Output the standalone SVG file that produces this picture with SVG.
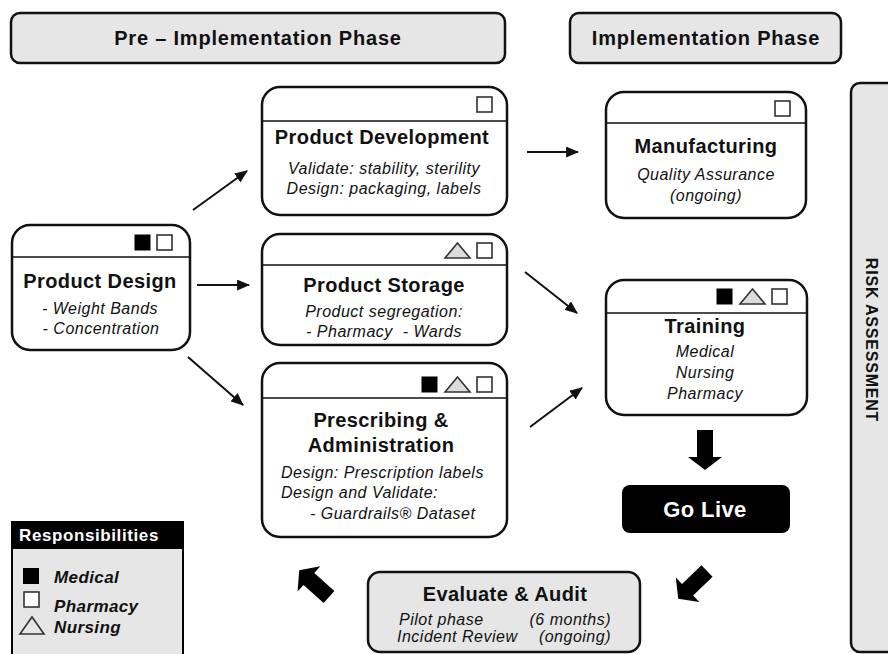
<svg xmlns="http://www.w3.org/2000/svg" width="888" height="654" viewBox="0 0 888 654">
  <style>
    .box { fill: #ffffff; stroke: #111; stroke-width: 2.5; }
    .band { fill: #e6e6e6; stroke: #111; stroke-width: 2.5; }
    .sep { stroke: #111; stroke-width: 1.5; }
    .title { font-family: "Liberation Sans", Arial, sans-serif; font-weight: bold; font-size: 20px; letter-spacing: 0.4px; fill: #111; text-anchor: middle; }
    .hdr { font-family: "Liberation Sans", Arial, sans-serif; font-weight: bold; font-size: 20px; letter-spacing: 0.8px; fill: #111; text-anchor: middle; }
    .body { font-family: "Liberation Sans", Arial, sans-serif; font-style: italic; font-size: 16px; letter-spacing: 0.5px; fill: #111; text-anchor: middle; }
    .left { text-anchor: start; }
    .right { text-anchor: end; }
    .sq-med { fill: #000; stroke: #000; stroke-width: 1; }
    .sq-pha { fill: #fff; stroke: #333; stroke-width: 1.6; }
    .tri-nur { fill: #dcdcdc; stroke: #333; stroke-width: 1.6; }
    .conn { stroke: #111; stroke-width: 2; fill: none; marker-end: url(#head); }
    .block { fill: #000; }
    .legend-txt { font-family: "Liberation Sans", Arial, sans-serif; font-weight: bold; font-style: italic; font-size: 17px; letter-spacing: 0.4px; fill: #111; }
  </style>
  <defs>
    <marker id="head" viewBox="0 0 12 10" refX="11" refY="5" markerWidth="13" markerHeight="11" markerUnits="userSpaceOnUse" orient="auto">
      <path d="M0,0 L12,5 L0,10 Z" fill="#111"/>
    </marker>
    <!-- block arrow pointing along +x, 40 long -->
    <path id="blk" d="M0,-8 L27,-8 L27,-17 L40,0 L27,17 L27,8 L0,8 Z"/>
    <rect id="sq" width="15" height="15"/>
    <path id="tri" d="M0,15 L12.5,0 L25,15 Z"/>
  </defs>

  <!-- phase headers -->
  <g id="pre-implementation">
    <rect class="band" x="11" y="13" width="494" height="50" rx="9"/>
    <text class="hdr" x="258" y="45">Pre – Implementation Phase</text>
  </g>
  <g id="implementation">
    <rect class="band" x="570" y="13" width="271" height="50" rx="9"/>
    <text class="hdr" x="706" y="45">Implementation Phase</text>
  </g>

  <!-- risk assessment band -->
  <g id="risk-assessment">
    <rect class="band" x="851" y="83" width="70" height="569" rx="9"/>
    <text class="hdr" x="0" y="0" transform="translate(866,340) rotate(90)" style="font-size:16px">RISK ASSESSMENT</text>
  </g>

  <!-- connectors -->
  <g id="connectors">
    <line class="conn" x1="193" y1="210" x2="247" y2="171"/>
    <line class="conn" x1="197" y1="285" x2="249" y2="285"/>
    <line class="conn" x1="188" y1="357" x2="243" y2="405"/>
    <line class="conn" x1="527" y1="152" x2="578" y2="152"/>
    <line class="conn" x1="525" y1="272" x2="577" y2="313"/>
    <line class="conn" x1="530" y1="427" x2="582" y2="388"/>
    <use href="#blk" class="block" transform="translate(705,430) rotate(90)"/>
    <use href="#blk" class="block" transform="translate(707,571) rotate(136)"/>
    <use href="#blk" class="block" transform="translate(329,597) rotate(222)"/>
  </g>

  <g id="product-design">
    <rect class="box" x="12" y="225" width="178" height="125" rx="18"/>
    <line class="sep" x1="13" y1="257" x2="189" y2="257"/>
    <use href="#sq" class="sq-med" x="135" y="235"/>
    <use href="#sq" class="sq-pha" x="157" y="235"/>
    <text class="title" x="100" y="288">Product Design</text>
    <text class="body" x="100" y="314">- Weight Bands</text>
    <text class="body" x="101" y="334">- Concentration</text>
  </g>

  <g id="product-development">
    <rect class="box" x="262" y="87" width="245" height="128" rx="18"/>
    <line class="sep" x1="263" y1="121" x2="506" y2="121"/>
    <use href="#sq" class="sq-pha" x="477" y="97"/>
    <text class="title" x="382" y="144">Product Development</text>
    <text class="body" x="384" y="174">Validate: stability, sterility</text>
    <text class="body" x="384" y="194">Design: packaging, labels</text>
  </g>

  <g id="product-storage">
    <rect class="box" x="262" y="234" width="245" height="111" rx="18"/>
    <line class="sep" x1="263" y1="265" x2="506" y2="265"/>
    <use href="#tri" class="tri-nur" x="445" y="243"/>
    <use href="#sq" class="sq-pha" x="477" y="243"/>
    <text class="title" x="384" y="292">Product Storage</text>
    <text class="body" x="384" y="317">Product segregation:</text>
    <text class="body" x="384" y="337" xml:space="preserve">- Pharmacy  - Wards</text>
  </g>

  <g id="prescribing-administration">
    <rect class="box" x="262" y="363" width="245" height="174" rx="18"/>
    <line class="sep" x1="263" y1="398" x2="506" y2="398"/>
    <use href="#sq" class="sq-med" x="422" y="377"/>
    <use href="#tri" class="tri-nur" x="445" y="377"/>
    <use href="#sq" class="sq-pha" x="477" y="377"/>
    <text class="title" x="381" y="427">Prescribing &amp;</text>
    <text class="title" x="381" y="452">Administration</text>
    <text class="body left" x="281" y="478">Design: Prescription labels</text>
    <text class="body left" x="281" y="498">Design and Validate:</text>
    <text class="body left" x="310" y="519">- Guardrails® Dataset</text>
  </g>

  <g id="manufacturing">
    <rect class="box" x="606" y="92" width="200" height="126" rx="18"/>
    <line class="sep" x1="607" y1="123" x2="805" y2="123"/>
    <use href="#sq" class="sq-pha" x="775" y="101"/>
    <text class="title" x="706" y="153">Manufacturing</text>
    <text class="body" x="706" y="180">Quality Assurance</text>
    <text class="body" x="706" y="201">(ongoing)</text>
  </g>

  <g id="training">
    <rect class="box" x="606" y="280" width="201" height="135" rx="18"/>
    <line class="sep" x1="607" y1="313" x2="806" y2="313"/>
    <use href="#sq" class="sq-med" x="717" y="289"/>
    <use href="#tri" class="tri-nur" x="740" y="289"/>
    <use href="#sq" class="sq-pha" x="772" y="289"/>
    <text class="title" x="705" y="333">Training</text>
    <text class="body" x="705" y="357">Medical</text>
    <text class="body" x="705" y="378">Nursing</text>
    <text class="body" x="705" y="399">Pharmacy</text>
  </g>

  <g id="go-live">
    <rect x="622" y="485" width="168" height="48" rx="8" fill="#000"/>
    <text class="title" x="705" y="517" style="fill:#fff;font-size:22px">Go Live</text>
  </g>

  <g id="evaluate-audit">
    <rect class="band" x="368" y="572" width="272" height="80" rx="12"/>
    <text class="title" x="505" y="601">Evaluate &amp; Audit</text>
    <text class="body left" x="399" y="625">Pilot phase</text>
    <text class="body right" x="611" y="625">(6 months)</text>
    <text class="body left" x="397" y="642">Incident Review</text>
    <text class="body right" x="611" y="642">(ongoing)</text>
  </g>

  <g id="legend">
    <rect x="12" y="522" width="171" height="134" fill="#e6e6e6" stroke="#000" stroke-width="2"/>
    <rect x="12" y="522" width="171" height="27" fill="#000"/>
    <text x="19" y="541" style="font-family:'Liberation Sans',Arial,sans-serif;font-weight:bold;font-size:17px;letter-spacing:0.6px;fill:#fff">Responsibilities</text>
    <rect x="23" y="568" width="16" height="16" fill="#000"/>
    <text class="legend-txt" x="54" y="583">Medical</text>
    <rect x="24" y="592" width="15" height="15" fill="#fff" stroke="#333" stroke-width="1.6"/>
    <text class="legend-txt" x="54" y="612">Pharmacy</text>
    <path d="M20,634 L32,617 L44,634 Z" fill="#e6e6e6" stroke="#333" stroke-width="1.6"/>
    <text class="legend-txt" x="54" y="633">Nursing</text>
  </g>
</svg>
